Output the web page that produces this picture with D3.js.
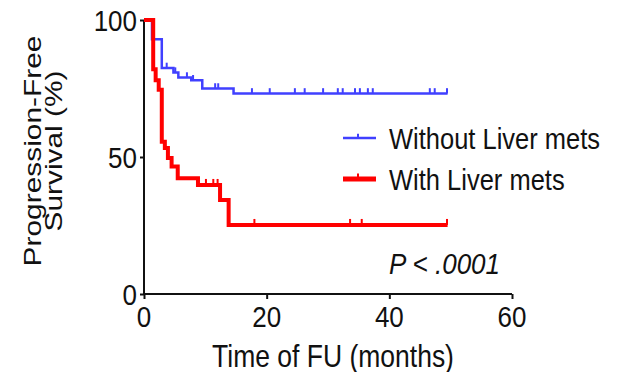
<!DOCTYPE html>
<html>
<head>
<meta charset="utf-8">
<script src="https://cdn.jsdelivr.net/npm/d3@7"></script>
<style>
  body { margin: 0; background: #fff; }
  text { font-family: 'Liberation Sans', Arial, sans-serif; fill: #111; }
</style>
</head>
<body>
<div id="canvas"></div>
<script>
// Kaplan-Meier steps: time (months) where the curve drops, and the survival after it
var blueTimes = [0, 1.3, 2.9, 4.8, 5.6, 7.7, 9.5, 14.6];
var blueSurv  = [100, 93, 82.5, 80.8, 79, 78, 75, 73.2];
var blueCens  = [3.7, 5.1, 7.0, 8.0, 11.6, 12.1, 17.6, 20.5, 24.6, 26.2, 29.2, 31.6, 32.4, 34.4, 35.2, 36.5, 37.3, 46.6, 47.4, 49.4];

var redTimes = [0, 1.5, 1.9, 2.4, 2.9, 3.4, 3.9, 4.5, 5.5, 8.8, 12.4, 13.8];
var redSurv  = [100, 82, 78, 74.5, 55.6, 53.3, 49.6, 46.5, 42.2, 39.8, 34.3, 25.2];
var redCens  = [10.1, 11.3, 12.0, 18.0, 33.6, 35.5, 49.4];

var endTime = 49.5;
var xTicks = [0, 20, 40, 60];
var yTicks = [0, 50, 100];
var seriesNames = ['Without Liver mets', 'With Liver mets'];

var W = 631, H = 372;
var sy = 1.15; // text in the source is stretched vertically

var svg = d3.select('#canvas').append('svg')
    .attr('width', W)
    .attr('height', H);

var x = d3.scaleLinear().domain([0, 60]).range([144, 512]);
var y = d3.scaleLinear().domain([0, 100]).range([294, 20]);

// axes
var axisX = d3.axisBottom(x).tickValues(xTicks).tickSize(5).tickFormat('');
var axisY = d3.axisLeft(y).tickValues(yTicks).tickSize(4).tickFormat('');

svg.append('g').attr('transform', 'translate(0,' + y(0) + ')').call(axisX);
svg.append('g').attr('transform', 'translate(' + x(0) + ',0)').call(axisY);
svg.selectAll('.tick line').attr('stroke', '#111').attr('stroke-width', 2);
svg.selectAll('.domain').remove();
svg.append('line').attr('x1', x(0)).attr('x2', x(60)).attr('y1', y(0)).attr('y2', y(0))
    .attr('stroke', '#111').attr('stroke-width', 2);
svg.append('line').attr('x1', x(0)).attr('x2', x(0)).attr('y1', y(0)).attr('y2', y(100))
    .attr('stroke', '#111').attr('stroke-width', 2);

function sText(g, tx, ty, str, anchor, size, extra, scaleY) {
    return g.append('text')
        .attr('transform', 'translate(' + tx + ',' + ty + ') scale(1,' + (scaleY || sy) + ')' + (extra || ''))
        .attr('text-anchor', anchor)
        .style('font-size', size + 'px')
        .text(str);
}

xTicks.forEach(function(v){
    sText(svg, x(v), 327, v, 'middle', 26);
});
yTicks.forEach(function(v){
    sText(svg, 137, y(v) + 10.5, v, 'end', 26);
});

sText(svg, 333, 367, 'Time of FU (months)', 'middle', 26.5);
sText(svg, 41, 151, 'Progression-Free', 'middle', 23, ' rotate(-90)', 1.3);
sText(svg, 62, 151, 'Survival (%)', 'middle', 23, ' rotate(-90)', 1.3);
sText(svg, 500, 274, 'P < .0001', 'end', 26).style('font-style', 'italic');

// curves
function stepPoints(times, surv) {
    var pts = times.map(function(t, i){ return [t, surv[i]]; });
    pts.push([endTime, surv[surv.length - 1]]);
    return pts;
}
function survAt(times, surv, t) {
    var s = surv[0];
    for (var i = 0; i < times.length; i++) { if (times[i] <= t) s = surv[i]; }
    return s;
}

var line = d3.line()
    .x(function(d){ return x(d[0]); })
    .y(function(d){ return y(d[1]); })
    .curve(d3.curveStepAfter);

var series = [
    {times: blueTimes, surv: blueSurv, cens: blueCens, color: '#4040ff', width: 2.5},
    {times: redTimes, surv: redSurv, cens: redCens, color: '#ff0000', width: 4}
];

series.forEach(function(s){
    svg.append('path')
        .datum(stepPoints(s.times, s.surv))
        .attr('fill', 'none')
        .attr('stroke', s.color)
        .attr('stroke-width', s.width)
        .attr('d', line);

    svg.selectAll(null)
        .data(s.cens)
        .enter()
        .append('line')
        .attr('x1', function(d){ return x(d); })
        .attr('x2', function(d){ return x(d); })
        .attr('y1', function(d){ return y(survAt(s.times, s.surv, d)); })
        .attr('y2', function(d){ return y(survAt(s.times, s.surv, d)) - 4 - s.width / 2; })
        .attr('stroke', s.color)
        .attr('stroke-width', 2);
});

// legend
var legY = [138, 179];
var legW = [2.5, 5];
series.forEach(function(s, i){
    var g = svg.append('g');
    g.append('line').attr('x1', 343).attr('x2', 376).attr('y1', legY[i]).attr('y2', legY[i])
        .attr('stroke', s.color).attr('stroke-width', legW[i]);
    g.append('line').attr('x1', 358).attr('x2', 358).attr('y1', legY[i]).attr('y2', legY[i] - legW[i] / 2 - 3)
        .attr('stroke', s.color).attr('stroke-width', 2);
    sText(g, 389, legY[i] + 10.5, seriesNames[i], 'start', 25.5);
});
</script>
</body>
</html>
